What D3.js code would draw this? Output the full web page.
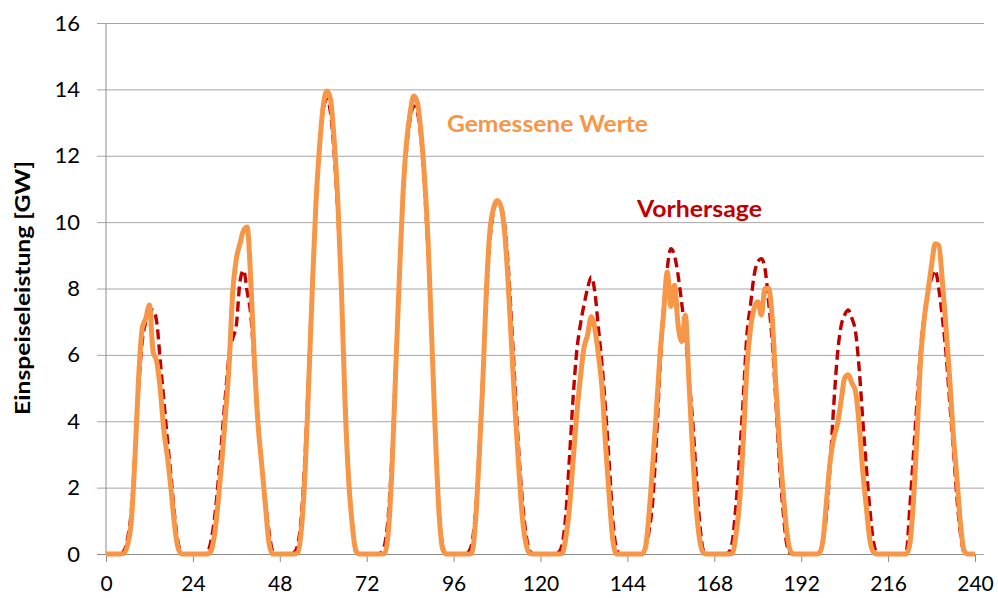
<!DOCTYPE html>
<html>
  <head>
    <meta charset="utf-8">
    <title>Einspeiseleistung</title>
    <script src="https://cdn.jsdelivr.net/npm/d3@7"></script>
    <style>
      body { margin: 0; background: #fff; }
    </style>
  </head>
  <body>
    <svg width="998" height="598" id="mainsvg"></svg>
    <script>
        // x ticks (hours) and y ticks (GW)
        const xTicks = [0, 24, 48, 72, 96, 120, 144, 168, 192, 216, 240];
        const yTicks = [0, 2, 4, 6, 8, 10, 12, 14, 16];

        // measured values, one per hour, h0 .. h240
        const gemessen = [
          0,0,0,0,0,0.02,0.3,1.0,2.9,5.3,6.8,7.1,7.5,6.1,5.8,4.95,3.7,2.9,1.9,0.8,0.15,0,0,0,
          0,0,0,0,0,0.1,0.6,1.6,2.8,4.2,5.7,7.9,8.9,9.35,9.75,9.85,8.2,5.8,3.9,2.7,1.5,0.35,0,0,
          0,0,0,0,0,0.05,0.8,2.5,5.2,8.05,10.6,12.3,13.5,13.95,13.7,12.5,10.7,8.05,4.6,2.26,0.9,0.1,0,0,
          0,0,0,0,0,0.02,0.7,2.6,5.5,8.3,10.8,12.4,13.3,13.8,13.6,12.7,11.3,9.3,6.4,3.5,1.2,0.15,0,0,
          0,0,0,0,0,0.02,0.9,2.8,5.0,7.8,9.7,10.4,10.65,10.5,9.8,8.3,6.3,4.3,2.6,1.1,0.3,0.02,0,0,
          0,0,0,0,0,0,0.02,0.5,1.4,2.8,4.2,5.3,6.2,6.6,7.15,6.8,6.0,5.0,3.24,1.7,0.4,0,0,0,
          0,0,0,0,0,0.2,1.24,2.7,4.3,6.0,7.26,8.5,7.46,8.1,6.9,6.4,7.2,5.2,3.1,1.4,0.4,0.03,0,0,
          0,0,0,0,0,0.02,0.6,1.6,3.4,5.6,6.8,7.4,7.6,7.2,8.0,8.0,7.1,5.1,3.3,1.9,0.7,0.1,0,0,
          0,0,0,0,0,0.02,0.4,1.6,2.8,3.5,3.9,4.6,5.3,5.4,5.15,4.9,3.9,2.5,1.4,0.4,0.05,0,0,0,
          0,0,0,0,0,0,0.3,1.6,3.6,5.9,7.1,7.9,8.7,9.35,9.3,8.2,6.8,5.3,3.6,2.3,0.9,0.1,0,0,0
        ];

        // forecast values, one per hour, h0 .. h240
        const vorhersage = [
          0,0,0,0,0,0.1,0.5,1.3,3.0,5.0,6.4,7.0,7.3,7.35,7.0,5.8,4.6,3.4,2.3,1.1,0.3,0.02,0,0,
          0,0,0,0,0.05,0.4,1.1,2.2,3.5,4.8,6.0,6.5,6.9,8.2,8.55,7.9,7.2,5.6,4.0,2.7,1.6,0.7,0.1,0,
          0,0,0,0,0.05,0.3,1.2,3.0,5.5,8.2,10.6,12.3,13.4,13.7,13.3,12.1,10.3,7.9,4.8,2.4,0.9,0.15,0,0,
          0,0,0,0,0.05,0.3,1.2,3.0,5.6,8.3,10.6,12.2,13.1,13.5,13.3,12.5,11.0,9.0,6.3,3.6,1.3,0.25,0,0,
          0,0,0,0,0.05,0.3,1.2,3.0,5.2,7.6,9.4,10.3,10.6,10.5,10.0,8.8,7.0,5.0,3.1,1.6,0.6,0.1,0,0,
          0,0,0,0,0,0.05,0.3,1.2,2.9,4.7,6.1,6.9,7.5,8.0,8.35,7.9,6.8,5.7,4.3,2.7,1.0,0.15,0,0,
          0,0,0,0,0,0.2,0.7,1.6,3.4,5.6,7.4,8.6,9.2,9.0,8.4,7.56,6.6,5.3,4.05,2.4,0.9,0.1,0,0,
          0,0,0,0,0.05,0.4,1.5,3.0,4.7,6.6,7.5,8.4,8.8,8.9,8.6,7.6,6.4,4.6,2.7,1.3,0.3,0.02,0,0,
          0,0,0,0,0,0.05,0.4,1.2,2.7,4.5,6.0,6.86,7.2,7.35,7.1,6.7,5.6,4.05,2.6,1.3,0.35,0.02,0,0,
          0,0,0,0,0,0.05,1.4,3.0,4.6,6.2,7.2,7.9,8.3,8.55,8.0,7.1,6.05,4.6,3.2,1.7,0.6,0.05,0,0,0
        ];

        const svg = d3.select('#mainsvg');
        const width = +svg.attr('width');
        const height = +svg.attr('height');
        const margin = {top: 23, right: 23, bottom: 44, left: 106};
        const innerWidth = width - margin.left - margin.right;
        const innerHeight = height - margin.top - margin.bottom;
        const font = 'Lato, "Open Sans", sans-serif';

        const g = svg.append('g')
          .attr('transform', `translate(${margin.left}, ${margin.top})`);

        const xScale = d3.scaleLinear().domain([0, 240]).range([0, innerWidth]);
        const yScale = d3.scaleLinear().domain([0, 16]).range([innerHeight, 0]);

        // y axis with gridlines across the plot
        const yAxis = d3.axisLeft(yScale).tickValues(yTicks)
          .tickSize(-innerWidth - 9).tickFormat(d3.format('d'));
        const yG = g.append('g').attr('transform', 'translate(-9,0)').call(yAxis);
        yG.select('.domain').remove();
        yG.selectAll('.tick line').attr('stroke', '#a6a6a6').attr('stroke-width', 1)
          .attr('transform', 'translate(9,0)').attr('x1', -9);
        yG.selectAll('.tick text').attr('x', -17).attr('font-size', '22px')
          .attr('font-family', font).attr('fill', '#000');

        g.append('line').attr('x1', 0).attr('x2', 0).attr('y1', 0).attr('y2', innerHeight)
          .attr('stroke', '#8c8c8c');

        // x axis
        const xAxis = d3.axisBottom(xScale).tickValues(xTicks).tickSize(8);
        const xG = g.append('g').attr('transform', `translate(0, ${innerHeight})`).call(xAxis);
        xG.select('.domain').attr('stroke', '#8c8c8c').attr('d', `M-9,0.5H${innerWidth}`);
        xG.selectAll('.tick line').attr('stroke', '#8c8c8c');
        xG.selectAll('.tick text').attr('y', 37).attr('dy', null)
          .attr('font-size', '21px').attr('font-family', font).attr('fill', '#000');

        const line = d3.line()
          .x((d, i) => xScale(i))
          .y(d => yScale(d))
          .curve(d3.curveMonotoneX);

        g.append('path').datum(vorhersage).attr('d', line)
          .attr('fill', 'none').attr('stroke', '#c00000').attr('stroke-width', 3.4)
          .attr('stroke-dasharray', '10,5');

        g.append('path').datum(gemessen).attr('d', line)
          .attr('fill', 'none').attr('stroke', '#f79646').attr('stroke-width', 5)
          .attr('stroke-linejoin', 'round');

        // labels
        svg.append('text').text('Gemessene Werte')
          .attr('x', 447).attr('y', 132)
          .attr('font-size', '23px').attr('font-weight', 'bold')
          .attr('textLength', 201).attr('lengthAdjust', 'spacingAndGlyphs')
          .attr('font-family', font).attr('fill', '#f79646');

        svg.append('text').text('Vorhersage')
          .attr('x', 637).attr('y', 217)
          .attr('font-size', '23px').attr('font-weight', 'bold')
          .attr('textLength', 125).attr('lengthAdjust', 'spacingAndGlyphs')
          .attr('font-family', font).attr('fill', '#c00000');

        svg.append('text').text('Einspeiseleistung [GW]')
          .attr('transform', 'translate(30, 288) rotate(-90)')
          .attr('text-anchor', 'middle')
          .attr('font-size', '21px').attr('font-weight', 'bold')
          .attr('textLength', 254).attr('lengthAdjust', 'spacingAndGlyphs')
          .attr('font-family', font).attr('fill', '#000');
    </script>
  </body>
</html>
